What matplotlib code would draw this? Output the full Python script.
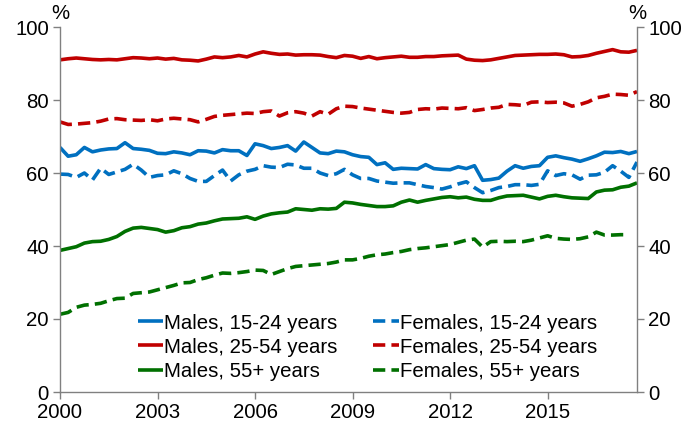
import matplotlib
matplotlib.use("Agg")
import matplotlib.pyplot as plt
import numpy as np

plt.rcParams['font.family'] = ['Liberation Sans', 'DejaVu Sans']

start_year = 2000
quarters_per_year = 4

males_15_24 = [67.0, 64.6, 65.0, 67.0, 65.8, 66.3, 66.6, 66.7, 68.3, 66.7, 66.5, 66.2, 65.4, 65.3, 65.8, 65.5, 65.0, 66.1,
               66.0, 65.5, 66.4, 66.1, 66.1, 64.8, 68.0, 67.5, 66.7, 67.0, 67.5, 66.0, 68.5, 67.0, 65.5, 65.3, 66.0, 65.8,
               65.0, 64.5, 64.3, 62.3, 62.8, 61.0, 61.3, 61.2, 61.1, 62.3, 61.2, 61.0, 60.9, 61.7, 61.2, 62.0, 58.0, 58.2,
               58.6, 60.5, 62.0, 61.3, 61.8, 62.0, 64.3, 64.7, 64.2, 63.8, 63.2, 63.9, 64.7, 65.7, 65.6, 65.9, 65.3, 65.9]
females_15_24 = [59.7, 59.6, 58.8, 60.0, 58.1, 61.3, 59.6, 60.3, 61.0, 62.4, 60.8, 58.8, 59.3, 59.5, 60.6, 59.8, 58.5, 57.7,
                 57.7, 59.3, 60.8, 57.8, 59.5, 60.5, 61.0, 62.0, 61.6, 61.5, 62.4, 62.2, 61.3, 61.3, 60.0, 59.3, 59.8, 61.0,
                 59.5, 58.5, 58.5, 57.8, 57.5, 57.2, 57.3, 57.3, 56.8, 56.3, 56.0, 55.6, 56.2, 57.0, 57.6, 56.0, 54.6, 55.2,
                 56.0, 56.3, 56.8, 56.8, 56.6, 56.9, 60.6, 59.3, 59.8, 59.5, 58.3, 59.4, 59.5, 60.2, 62.0, 60.5, 58.8, 63.0]
males_25_54 = [91.0, 91.3, 91.5, 91.3, 91.1, 91.0, 91.1, 91.0, 91.3, 91.6, 91.5, 91.3, 91.5, 91.2, 91.4, 91.0, 90.9, 90.7,
               91.2, 91.8, 91.6, 91.8, 92.2, 91.8, 92.6, 93.2, 92.8, 92.5, 92.6, 92.3, 92.4, 92.4, 92.3, 91.9, 91.6, 92.2,
               92.0, 91.4, 91.9, 91.3, 91.6, 91.8, 92.0, 91.7, 91.7, 91.9, 91.9, 92.1, 92.2, 92.3, 91.2, 90.9, 90.8, 91.0,
               91.4, 91.8, 92.2, 92.3, 92.4, 92.5, 92.5, 92.6, 92.4, 91.8, 91.9, 92.2, 92.8, 93.3, 93.8, 93.2, 93.1, 93.6]
females_25_54 = [74.0, 73.3, 73.4, 73.6, 73.8, 74.2, 74.8, 74.9, 74.6, 74.5, 74.4, 74.6, 74.3, 74.8, 75.0, 74.8, 74.6, 74.0,
                 74.7, 75.5, 75.8, 76.0, 76.2, 76.4, 76.3, 76.8, 77.0, 75.6, 76.5, 76.8, 76.4, 75.6, 76.8, 76.1, 77.6, 78.3,
                 78.2, 77.8, 77.5, 77.2, 76.9, 76.6, 76.4, 76.6, 77.4, 77.6, 77.5, 77.8, 77.7, 77.6, 77.9, 77.1, 77.4, 77.8,
                 78.0, 78.8, 78.7, 78.5, 79.4, 79.5, 79.3, 79.4, 79.2, 78.3, 78.8, 79.5, 80.6, 81.0, 81.6, 81.5, 81.3, 82.3]
males_55_plus = [38.8, 39.3, 39.8, 40.8, 41.2, 41.3, 41.8, 42.6, 44.0, 44.9, 45.1, 44.8, 44.5, 43.8, 44.2, 45.0, 45.3, 46.0,
                 46.3, 46.9, 47.4, 47.5, 47.6, 48.0, 47.3, 48.2, 48.8, 49.1, 49.3, 50.2, 50.0, 49.8, 50.2, 50.1, 50.3, 52.0,
                 51.8, 51.4, 51.1, 50.8, 50.8, 51.0, 52.0, 52.6, 52.0, 52.5, 52.9, 53.3, 53.5, 53.2, 53.4, 52.8, 52.5, 52.5,
                 53.2, 53.7, 53.8, 53.9, 53.4, 52.9, 53.6, 53.9, 53.5, 53.2, 53.1, 53.0, 54.8, 55.3, 55.4, 56.1, 56.4, 57.3]
females_55_plus = [21.3, 21.8, 23.2, 23.8, 24.0, 24.3, 25.0, 25.6, 25.7, 27.0, 27.2, 27.4, 28.0, 28.6, 29.2, 29.9, 30.0, 30.8,
                   31.3, 32.0, 32.6, 32.5, 32.7, 33.0, 33.4, 33.3, 32.2, 33.0, 33.8, 34.4, 34.6, 34.8, 35.0, 35.2, 35.6, 36.2,
                   36.2, 36.6, 37.2, 37.6, 37.8, 38.2, 38.5, 39.0, 39.3, 39.5, 39.8, 40.1, 40.4, 41.0, 41.6, 41.9, 39.7, 41.2,
                   41.3, 41.2, 41.3, 41.2, 41.6, 42.2, 42.8, 42.1, 41.9, 41.8, 42.0, 42.5, 43.8, 43.0, 43.0, 43.1, 43.1]

labels = ["Males, 15-24 years", "Females, 15-24 years",
          "Males, 25-54 years", "Females, 25-54 years",
          "Males, 55+ years", "Females, 55+ years"]
x_ticks = [2000, 2003, 2006, 2009, 2012, 2015]
y_ticks = [0, 20, 40, 60, 80, 100]

blue = '#0070C0'
red = '#C00000'
green = '#007000'
series = [(males_15_24, blue, '-'), (females_15_24, blue, '--'),
          (males_25_54, red, '-'), (females_25_54, red, '--'),
          (males_55_plus, green, '-'), (females_55_plus, green, '--')]

FS = 14.7
fig = plt.figure(figsize=(6.87, 4.24), dpi=100)
ax = fig.add_axes([60/687, 32/424, 577/687, 365/424])

handles = {}
for (vals, col, ls), lab in zip(series, labels):
    xs = start_year + np.arange(len(vals)) / quarters_per_year
    kw = dict(dashes=(3.4, 1.7)) if ls == '--' else {}
    line, = ax.plot(xs, vals, color=col, lw=2.6, linestyle=ls, label=lab,
                    solid_capstyle='butt', dash_capstyle='butt', **kw)
    handles[lab] = line

ax.set_xlim(2000, 2017.75)
ax.set_ylim(0, 100)
ax.set_xticks(x_ticks)
ax.set_yticks(y_ticks)

gray = '#808080'
for s in ['left', 'right', 'bottom']:
    ax.spines[s].set_color(gray)
    ax.spines[s].set_linewidth(1.0)
ax.spines['top'].set_visible(False)
ax.tick_params(axis='both', direction='out', length=5, width=1.0, color=gray,
               labelsize=FS, labelcolor='black', pad=3)
ax.tick_params(axis='y', left=True, right=True, labelleft=True, labelright=True)

ax.text(0, 1.012, '%', transform=ax.transAxes, ha='center', va='bottom', fontsize=FS)
ax.text(1, 1.012, '%', transform=ax.transAxes, ha='center', va='bottom', fontsize=FS)

# matplotlib fills legend columns first: males in column 1, females in column 2
order = [labels[0], labels[2], labels[4], labels[1], labels[3], labels[5]]
leg = ax.legend([handles[l] for l in order], order, ncol=2, frameon=False,
                loc='center', bbox_to_anchor=(0.533, 0.123), fontsize=FS,
                handlelength=1.25, handletextpad=0.05, columnspacing=1.75,
                labelspacing=0.25, borderpad=0.2)
fig.savefig('out.png', dpi=100)
